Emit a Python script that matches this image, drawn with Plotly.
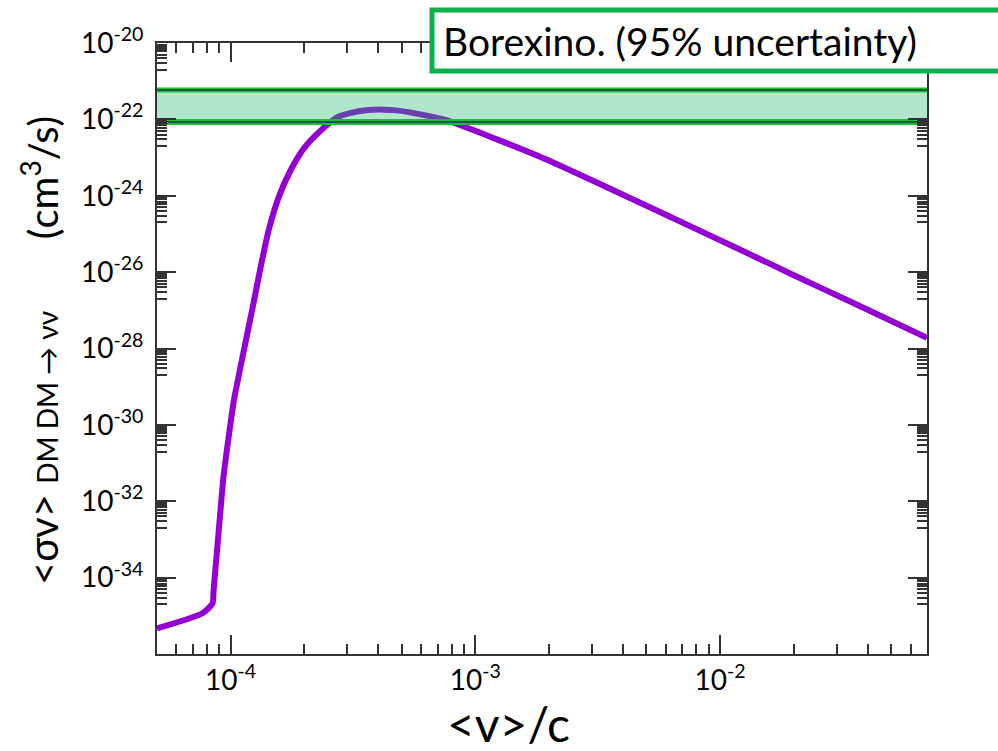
import plotly.graph_objects as go
import numpy as np

# ---- data ----
v_over_c = [5.0e-5, 7.67e-5, 8.43e-5, 8.51e-5, 8.93e-5, 9.35e-5, 9.82e-5, 1.028e-4,
            1.099e-4, 1.151e-4, 1.230e-4, 1.327e-4, 1.432e-4, 1.574e-4, 1.762e-4,
            1.991e-4, 2.34e-4, 2.75e-4, 3.105e-4, 3.57e-4, 4.19e-4, 4.75e-4, 5.47e-4,
            7.6e-4, 1.23e-3, 1.95e-3, 3.48e-3, 6.18e-3, 1.11e-2, 1.97e-2, 3.50e-2, 7.0e-2]
sigma_v = [4.7e-36, 1.17e-35, 2.1e-35, 4.4e-35, 1.6e-33, 4.5e-32, 5.0e-31, 4.0e-30,
           3.5e-29, 1.5e-28, 1.2e-27, 1.4e-26, 1.3e-25, 9.5e-25, 4.8e-24,
           1.74e-23, 5.2e-23, 1.17e-22, 1.48e-22, 1.73e-22, 1.8e-22, 1.72e-22, 1.5e-22,
           9.5e-23, 2.95e-23, 8.9e-24, 1.62e-24, 2.9e-25, 5.0e-26, 8.7e-27, 1.55e-27, 1.9e-28]

band_x = [5.0e-5, 7.0e-2]
band_low = 8.6e-23
band_high = 5.9e-22
band_label = "Borexino. (95% uncertainty)"

x_range = [5.0e-5, 7.0e-2]
y_range = [1e-36, 1e-20]
x_major = [1e-4, 1e-3, 1e-2]
x_major_text = ["10<sup>-4</sup>", "10<sup>-3</sup>", "10<sup>-2</sup>"]
y_major_exp = [-34, -32, -30, -28, -26, -24, -22, -20]

x_minor = [m * 1e-5 for m in range(6, 10)] + [m * 1e-4 for m in range(2, 10)] + \
          [m * 1e-3 for m in range(2, 10)] + [m * 1e-2 for m in range(2, 8)]
y_minor = [m * 10.0 ** (k - 1) for k in y_major_exp for m in range(2, 10)]

FONT = "Lato"
AX = "#333333"
PURPLE = "#9400D3"
GREEN = "#1FBE30"
NAVY = "#1B3552"

fig = go.Figure()

# curve
fig.add_trace(go.Scatter(x=v_over_c, y=sigma_v, mode="lines",
                         line=dict(color=PURPLE, width=6, shape="spline", smoothing=0.6),
                         showlegend=False))

# band
fig.add_trace(go.Scatter(x=band_x, y=[band_low, band_low], mode="lines",
                         line=dict(color=GREEN, width=6), showlegend=False))
fig.add_trace(go.Scatter(x=band_x, y=[band_high, band_high], mode="lines",
                         line=dict(color=GREEN, width=5), fill="tonexty",
                         fillcolor="rgba(29,184,109,0.35)", showlegend=False))
for yv in (band_low, band_high):
    fig.add_trace(go.Scatter(x=band_x, y=[yv, yv], mode="lines",
                             line=dict(color=NAVY, width=1.5), showlegend=False))

W, H = 998, 751
ml, mr, mt, mb = 157, 71, 43, 97
pw, ph = W - ml - mr, H - mt - mb


def px2paper_x(px):
    return (px - ml) / pw


def px2paper_y(py):
    return (H - mb - py) / ph


axis_common = dict(
    type="log", showline=True, linecolor=AX, linewidth=2, mirror="allticks",
    ticks="inside", ticklen=19, tickwidth=1.5, tickcolor=AX,
    showgrid=False, zeroline=False,
    tickfont=dict(family=FONT, size=28, color="black"),
)

fig.update_xaxes(
    **axis_common,
    range=[np.log10(x_range[0]), np.log10(x_range[1])],
    tickmode="array", tickvals=x_major, ticktext=x_major_text,
    minor=dict(tickmode="array", tickvals=x_minor, ticks="inside", ticklen=10,
               tickwidth=1.5, tickcolor=AX, showgrid=False),
)
fig.update_yaxes(
    **axis_common,
    range=[np.log10(y_range[0]), np.log10(y_range[1])],
    tickmode="array", tickvals=[10.0 ** k for k in y_major_exp],
    ticktext=[f"10<sup>{k}</sup>" for k in y_major_exp],
    minor=dict(tickmode="array", tickvals=y_minor, ticks="inside", ticklen=10,
               tickwidth=1.5, tickcolor=AX, showgrid=False),
    ticklabelstandoff=6,
)

nb = "\u00a0"
ytitle = ("&lt;σv&gt;" + nb + "<span style='font-size:28px'>DM" + nb + "DM" + nb + "→" + nb + "νν</span>"
          + nb * 7 + "(cm<sup>3</sup>/s)")
annotations = [
    dict(text=ytitle, xref="paper", yref="paper", x=px2paper_x(40), y=px2paper_y(351),
         xanchor="center", yanchor="middle", textangle=-90, showarrow=False,
         font=dict(family=FONT, size=40, color="black")),
    dict(text="&lt;v&gt;/c", xref="paper", yref="paper", x=px2paper_x(508), y=px2paper_y(723),
         xanchor="center", yanchor="middle", showarrow=False,
         font=dict(family=FONT, size=48, color="black")),
    dict(text=band_label, xref="paper", yref="paper", x=px2paper_x(441), y=px2paper_y(41),
         xanchor="left", yanchor="middle", showarrow=False,
         font=dict(family=FONT, size=39, color="black")),
]

shapes = [
    dict(type="rect", xref="paper", yref="paper", layer="above",
         x0=px2paper_x(432), x1=px2paper_x(1010), y0=px2paper_y(71), y1=px2paper_y(10),
         line=dict(color="#0DB14B", width=5), fillcolor="white"),
]

fig.update_layout(
    width=W, height=H, margin=dict(l=ml, r=mr, t=mt, b=mb),
    paper_bgcolor="white", plot_bgcolor="white",
    showlegend=False, annotations=annotations, shapes=shapes,
)

fig.write_html("out.html")
